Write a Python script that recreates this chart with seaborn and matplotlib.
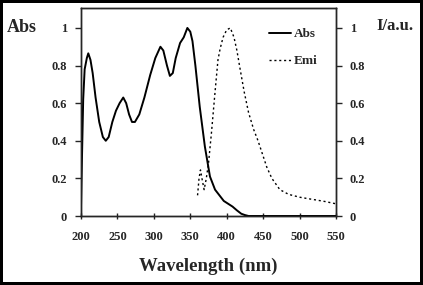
import numpy as np
import pandas as pd
import seaborn as sns
import matplotlib.pyplot as plt

# absorption spectrum
abs_nm = [200, 201, 203, 205, 208, 210, 213, 216, 220, 225, 230, 234, 238, 243, 248,
          253, 258, 262, 266, 270, 274, 280, 287, 295, 302, 309, 313, 318, 322, 326,
          330, 336, 341, 346, 350, 353, 357, 363, 370, 377, 384, 390, 396, 402, 408,
          414, 420, 425, 430, 450, 500, 550]
abs_val = [0.05, 0.25, 0.62, 0.78, 0.84, 0.865, 0.83, 0.76, 0.63, 0.5, 0.42, 0.40, 0.42, 0.5, 0.56,
           0.6, 0.63, 0.6, 0.54, 0.5, 0.5, 0.54, 0.63, 0.75, 0.84, 0.90, 0.88, 0.80, 0.745, 0.76,
           0.84, 0.92, 0.95, 1.0, 0.98, 0.93, 0.80, 0.58, 0.37, 0.21, 0.14, 0.11, 0.08, 0.065, 0.05,
           0.03, 0.012, 0.005, 0.0, 0.0, 0.0, 0.0]

# emission spectrum
emi_nm = [360, 362, 364, 366, 369, 372, 375, 379, 384, 388, 391, 395, 400, 405, 410,
          414, 418, 424, 430, 437, 443, 449, 455, 462, 473, 485, 500, 512, 523, 535, 546, 550]
emi_val = [0.11, 0.2, 0.245, 0.2, 0.14, 0.2, 0.28, 0.44, 0.66, 0.83, 0.89, 0.95, 0.99, 1.0, 0.95,
           0.88, 0.79, 0.66, 0.55, 0.46, 0.40, 0.33, 0.26, 0.2, 0.14, 0.115, 0.10, 0.092, 0.085, 0.077, 0.068, 0.065]

x_ticks = [200, 250, 300, 350, 400, 450, 500, 550]
y_ticks = [0, 0.2, 0.4, 0.6, 0.8, 1]
y_labels = ["0", "0.2", "0.4", "0.6", "0.8", "1"]

sns.set_style("ticks")
plt.rcParams["font.family"] = ["Liberation Serif", "DejaVu Serif"]
plt.rcParams["font.weight"] = "bold"

fig = plt.figure(figsize=(4.23, 2.85), dpi=100)
fig.patch.set_edgecolor("black")
fig.patch.set_linewidth(4)
ax = fig.add_axes([0.1915, 0.2421, 0.6028, 0.7298])

df_abs = pd.DataFrame({"nm": abs_nm, "val": abs_val})
df_emi = pd.DataFrame({"nm": emi_nm, "val": emi_val})
sns.lineplot(data=df_abs, x="nm", y="val", color="black", linewidth=1.4, ax=ax, label="Abs")
sns.lineplot(data=df_emi, x="nm", y="val", color="black", linewidth=1.0,
             linestyle=(0, (1.5, 2)), ax=ax, label="Emi")

ax.set_xlim(200, 550)
ax.set_ylim(0, 1.106)
ax.set_xticks(x_ticks)
ax.set_xticklabels([str(t) for t in x_ticks])
ax.set_yticks(y_ticks)
ax.set_yticklabels(y_labels)
ax.tick_params(axis="x", direction="inout", length=5, width=1, labelsize=9, pad=8)
ax.tick_params(axis="y", direction="out", length=4, width=1, labelsize=9, pad=6)
for s in ax.spines.values():
    s.set_linewidth(1)
    s.set_color("black")
ax.set_xlabel("Wavelength (nm)", fontsize=13.5, fontweight="bold", labelpad=11)
ax.set_ylabel("")

ax2 = ax.twinx()
ax2.set_ylim(0, 1.106)
ax2.set_yticks(y_ticks)
ax2.set_yticklabels(y_labels)
ax2.tick_params(axis="y", direction="out", length=4, width=1, labelsize=9, pad=6)
for s in ax2.spines.values():
    s.set_linewidth(1)

fig.text(7 / 423, 1 - 28 / 285, "Abs", fontsize=13, fontweight="bold", va="center", ha="left")
fig.text(376 / 423, 1 - 26 / 285, "I/a.u.", fontsize=12, fontweight="bold", va="center", ha="left")

leg = ax.legend(loc="upper right", frameon=False, fontsize=9.5, handlelength=1.7,
                handletextpad=0.2, labelspacing=1.1, bbox_to_anchor=(0.975, 0.96))

fig.savefig("out.png", dpi=100, edgecolor=fig.get_edgecolor())
